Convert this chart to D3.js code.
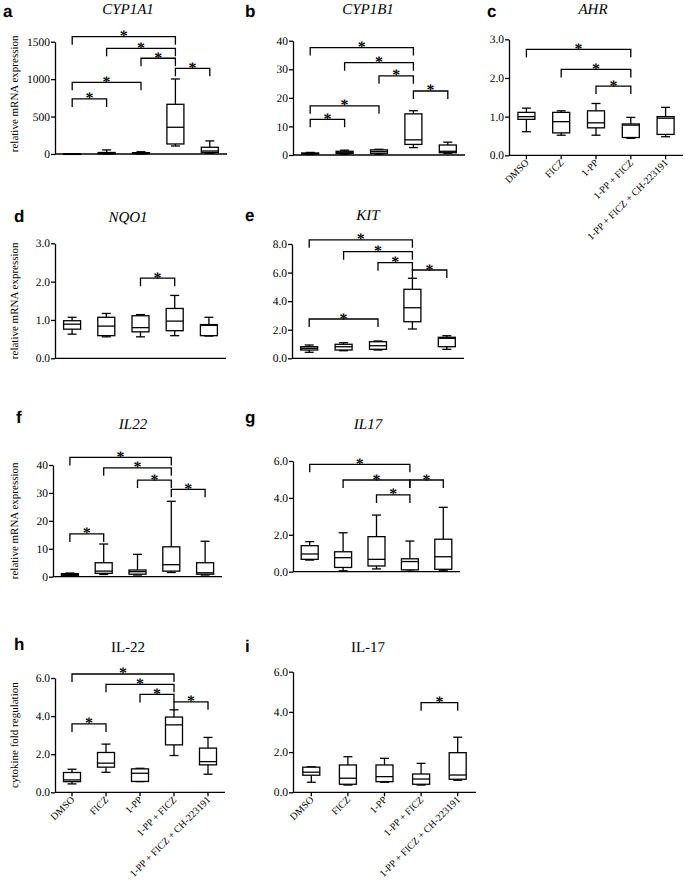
<!DOCTYPE html>
<html><head><meta charset="utf-8">
<script src="https://cdn.jsdelivr.net/npm/d3@7"></script>
<style>body{margin:0;background:#fff}svg{display:block}text{-webkit-font-smoothing:antialiased;text-rendering:geometricPrecision}</style>
</head><body><svg id="c" width="685" height="883"></svg>
<script>
const categories = ["DMSO","FICZ","1-PP","1-PP + FICZ","1-PP + FICZ + CH-223191"];
// each box: [min, q1, median, q3, max]
const cyp1a1 = [[0.5,0.8,1,1.2,1.5],[1,3,8,20,55],[1,4,10,18,30],[107,134,357,664,1002],[10,20,40,90,175]];
const cyp1b1 = [[0.2,0.4,0.5,0.7,0.9],[0.3,0.5,0.8,1.3,1.7],[0.3,0.6,1.2,1.8,2.0],[2.6,3.7,5.3,14.4,15.5],[0.6,0.8,1.3,3.5,4.5]];
const ahr    = [[0.61,0.93,1.0,1.11,1.22],[0.52,0.58,0.87,1.11,1.15],[0.52,0.71,0.84,1.15,1.34],[0.44,0.46,0.78,0.81,0.98],[0.48,0.54,0.96,1.0,1.24]];
const nqo1   = [[0.63,0.76,0.89,0.98,1.07],[0.56,0.59,0.84,1.07,1.17],[0.56,0.69,0.80,1.11,1.14],[0.59,0.72,0.97,1.30,1.64],[0.58,0.59,0.86,0.88,1.07]];
const kit    = [[0.42,0.58,0.7,0.81,0.93],[0.53,0.58,0.81,0.98,1.09],[0.58,0.63,0.88,1.16,1.21],[2.05,2.56,3.54,4.83,5.6],[0.63,0.81,1.4,1.47,1.58]];
const il22   = [[0.3,0.5,0.8,1.1,1.3],[0.8,1.2,2.0,5.0,11.7],[0.6,0.9,1.8,2.4,8.0],[1.5,2.0,4.3,10.7,27],[0.6,0.9,1.4,5.0,12.7]];
const il17   = [[0.63,0.67,0.96,1.41,1.63],[0.05,0.23,0.76,1.08,2.11],[0.15,0.31,0.67,1.9,3.07],[0.03,0.1,0.55,0.7,1.66],[0.05,0.13,0.81,1.76,3.49]];
const il22p  = [[0.44,0.56,0.65,1.04,1.21],[1.05,1.32,1.53,2.09,2.53],[0.56,0.57,1.0,1.23,1.26],[1.93,2.49,3.54,3.95,4.33],[0.95,1.44,1.61,2.32,2.88]];
const il17p  = [[0.5,0.85,1.0,1.25,1.27],[0.36,0.40,0.70,1.36,1.77],[0.5,0.53,0.78,1.36,1.69],[0.36,0.40,0.66,0.91,1.44],[0.6,0.65,0.86,1.97,2.74]];

// significance brackets: [from index, to index, height in data units]
const brA = [[0,3,1567],[1,3,1412],[2,3,1279],[3,4,1145],[0,2,958],[0,1,735]];
const brB = [[0,3,37.6],[1,3,32.3],[2,3,27.7],[3,4,22.4],[0,2,17.2],[0,1,12.5]];
const brC = [[0,3,2.74],[1,3,2.22],[2,3,1.79]];
const brD = [[2,3,2.09]];
const brE = [[0,3,8.29],[1,3,7.46],[2,3,6.69],[3,4,6.18],[0,2,2.75]];
const brF = [[0,3,42.7],[1,3,39.0],[2,3,34.6],[3,4,31.3],[0,1,15.3]];
const brG = [[0,3,5.82],[1,3,4.97],[3,4,4.97],[2,3,4.16]];
const brH = [[0,3,6.21],[1,3,5.67],[2,3,5.14],[3,4,4.75],[0,1,3.59]];
const brI = [[3,4,4.46]];

const ticks1500 = [0,500,1000,1500];
const ticks40 = [0,10,20,30,40];
const ticks3 = [0,1,2,3];
const ticks8 = [0,2,4,6,8];
const ticks6 = [0,2,4,6];

const fInt = d3.format("d"), fDec = d3.format(".1f");
const panels = [
 {lab:"a",data:cyp1a1,br:brA,ticks:ticks1500,fmt:fInt,dom:[0,1500],x0:55,x1:227,yb:154,yt:41.7,title:"CYP1A1",it:true,tx:128,ty:14,lx:3,ly:17,ylab:"relative mRNA expression",yo:-4,xl:false},
 {lab:"b",data:cyp1b1,br:brB,ticks:ticks40,fmt:fInt,dom:[0,40],x0:293,x1:465,yb:155,yt:40.7,title:"CYP1B1",it:true,tx:368,ty:14,lx:245,ly:17,xl:false},
 {lab:"c",data:ahr,br:brC,ticks:ticks3,fmt:fDec,dom:[0,3],x0:509,x1:683,yb:155.3,yt:39.3,title:"AHR",it:true,tx:593,ty:14,lx:487,ly:17,xl:true},
 {lab:"d",data:nqo1,br:brD,ticks:ticks3,fmt:fDec,dom:[0,3],x0:55,x1:226,yb:358.3,yt:243.3,title:"NQO1",it:true,tx:128,ty:222,lx:14,ly:222,ylab:"relative mRNA expression",yo:0,xl:false},
 {lab:"e",data:kit,br:brE,ticks:ticks8,fmt:fDec,dom:[0,8],x0:292,x1:464,yb:358.3,yt:244,title:"KIT",it:true,tx:368,ty:220,lx:245,ly:221,xl:false},
 {lab:"f",data:il22,br:brF,ticks:ticks40,fmt:fInt,dom:[0,40],x0:53,x1:222,yb:576.7,yt:465,title:"IL22",it:true,tx:133,ty:429,lx:16,ly:423,ylab:"relative mRNA expression",yo:0,xl:false},
 {lab:"g",data:il17,br:brG,ticks:ticks6,fmt:fDec,dom:[0,6],x0:293,x1:460,yb:571.7,yt:461,title:"IL17",it:true,tx:368,ty:429,lx:245,ly:423,xl:false},
 {lab:"h",data:il22p,br:brH,ticks:ticks6,fmt:fDec,dom:[0,6],x0:55,x1:225,yb:792.3,yt:678,title:"IL-22",it:false,tx:128,ty:652,lx:14,ly:650,ylab:"cytokine fold regulation",yo:0,xl:true},
 {lab:"i",data:il17p,br:brI,ticks:ticks6,fmt:fDec,dom:[0,6],x0:293,x1:476,yb:792.3,yt:671.7,title:"IL-17",it:false,tx:368,ty:652,lx:245,ly:652,xl:true}
];

const svg = d3.select("#c");
svg.append("rect").attr("width",685).attr("height",883).attr("fill","#fff");
const SERIF = "'Liberation Serif','Times New Roman',serif";
const SANS = "'Liberation Sans',Arial,sans-serif";
const SW = 1.3;

panels.forEach(p => {
  const g = svg.append("g");
  const x = d3.scalePoint().domain(categories).range([p.x0, p.x1]).padding(0.5);
  const y = d3.scaleLinear().domain(p.dom).range([p.yb, p.yt]);

  g.append("text").attr("x",p.lx).attr("y",p.ly).text(p.lab)
    .attr("font-family",SANS).attr("font-weight","bold").attr("font-size",17).attr("fill","#000");
  g.append("text").attr("x",p.tx).attr("y",p.ty).text(p.title).attr("text-anchor","middle")
    .attr("font-family",SERIF).attr("font-style",p.it?"italic":"normal").attr("font-size",15).attr("fill","#000");
  if (p.ylab) {
    g.append("text").attr("transform",`translate(18,${(p.yb+p.yt)/2+p.yo}) rotate(-90)`)
      .attr("text-anchor","middle").text(p.ylab)
      .attr("font-family",SERIF).attr("font-size",11).attr("fill","#000");
  }
  const ax = g.append("g").attr("transform",`translate(${p.x0},0)`)
    .call(d3.axisLeft(y).tickValues(p.ticks).tickFormat(p.fmt).tickSize(4).tickSizeOuter(0).tickPadding(1));
  ax.selectAll("path,line").attr("stroke","#000").attr("stroke-width",SW);
  ax.selectAll("text").attr("font-family",SERIF).attr("font-size",11.5).attr("fill","#000");
  g.append("line").attr("x1",p.x0).attr("x2",p.x1).attr("y1",y(0)).attr("y2",y(0))
    .attr("stroke","#000").attr("stroke-width",SW);
  if (p.xl) {
    categories.forEach(c => {
      g.append("line").attr("x1",x(c)).attr("x2",x(c)).attr("y1",y(0)).attr("y2",y(0)+4)
        .attr("stroke","#000").attr("stroke-width",SW);
      g.append("text").attr("transform",`translate(${x(c)+3},${y(0)+8}) rotate(-45)`)
        .attr("text-anchor","end").text(c)
        .attr("font-family",SERIF).attr("font-size",10).attr("fill","#000");
    });
  }
  const bw = 17, cw = 9;
  p.data.forEach((d,i) => {
    const cx = x(categories[i]);
    const [mn,q1,md,q3,mx] = d;
    const bg = g.append("g").attr("stroke","#000").attr("stroke-width",SW).attr("fill","none");
    bg.append("line").attr("x1",cx).attr("x2",cx).attr("y1",y(q3)).attr("y2",y(mx));
    bg.append("line").attr("x1",cx).attr("x2",cx).attr("y1",y(q1)).attr("y2",y(mn));
    bg.append("line").attr("x1",cx-cw/2).attr("x2",cx+cw/2).attr("y1",y(mx)).attr("y2",y(mx));
    bg.append("line").attr("x1",cx-cw/2).attr("x2",cx+cw/2).attr("y1",y(mn)).attr("y2",y(mn));
    bg.append("rect").attr("x",cx-bw/2).attr("width",bw).attr("y",y(q3)).attr("height",Math.max(0.5,y(q1)-y(q3))).attr("fill","#fff");
    bg.append("line").attr("x1",cx-bw/2).attr("x2",cx+bw/2).attr("y1",y(md)).attr("y2",y(md));
  });
  const leg = 8;
  p.br.forEach(b => {
    const xa = x(categories[b[0]]), xb = x(categories[b[1]]), yy = y(b[2]);
    g.append("path").attr("d",`M${xa},${yy+leg}V${yy}H${xb}V${yy+leg}`)
      .attr("fill","none").attr("stroke","#000").attr("stroke-width",SW);
    g.append("text").attr("x",(xa+xb)/2).attr("y",yy+4.5).attr("text-anchor","middle").text("*")
      .attr("font-family",SERIF).attr("font-weight","bold").attr("font-size",16).attr("fill","#000");
  });
});
</script></body></html>
